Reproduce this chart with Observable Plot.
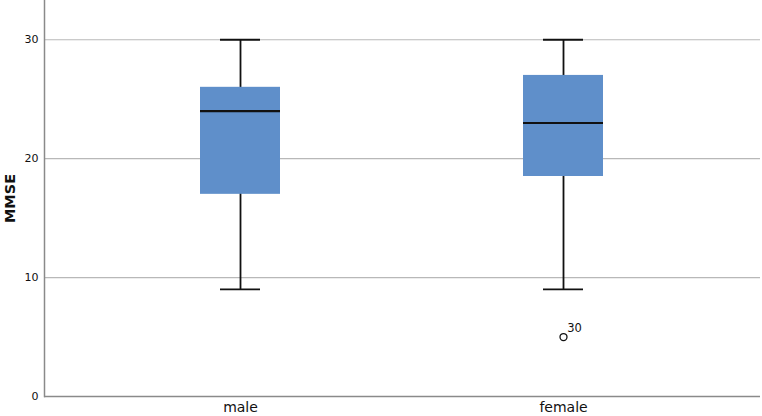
<!DOCTYPE html>
<html>
<head>
<meta charset="utf-8">
<script src="https://cdn.jsdelivr.net/npm/d3@7"></script>
<script src="https://cdn.jsdelivr.net/npm/@observablehq/plot@0.6"></script>
<style>
  html, body { margin: 0; padding: 0; background: #fff; }
  svg { display: block; }
</style>
</head>
<body>
<div id="chart"></div>
<script>
const groups = ["male", "female"];
const mins = [9, 9];
const q1s = [17, 18.5];
const medians = [24, 23];
const q3s = [26, 27];
const maxs = [30, 30];
const outlierGroups = ["female"];
const outlierValues = [5];
const outlierLabels = ["30"];
const yTicks = [0, 10, 20, 30];

const rows = groups.map((g, i) => ({group: g, min: mins[i], q1: q1s[i], median: medians[i], q3: q3s[i], max: maxs[i]}));
const outliers = outlierGroups.map((g, i) => ({group: g, value: outlierValues[i], label: outlierLabels[i]}));

const chart = Plot.plot({
  width: 762,
  height: 416,
  marginTop: 0,
  marginLeft: 44,
  marginRight: 2,
  marginBottom: 20,
  style: {fontFamily: "DejaVu Sans, sans-serif", background: "#fff"},
  x: {domain: groups, paddingInner: 0.752, paddingOuter: 0.484, label: null},
  y: {domain: [0, 33.3], label: "MMSE"},
  marks: [
    Plot.gridY([10, 20, 30], {stroke: "#b8b8b8", strokeOpacity: 1, strokeWidth: 1.2}),
    Plot.ruleY([0], {stroke: "#8a8a8a", strokeWidth: 1.5}),
    Plot.frame({anchor: "left", stroke: "#8a8a8a", strokeWidth: 1.5}),
    Plot.ruleX(rows, {x: "group", y1: "min", y2: "max", stroke: "#111", strokeWidth: 1.8}),
    Plot.barY(rows, {x: "group", y1: "q1", y2: "q3", fill: "#5f8fca"}),
    Plot.tickY(rows, {x: "group", y: "median", stroke: "#111", strokeWidth: 2.2}),
    Plot.tickY(rows, {x: "group", y: "min", insetLeft: 20, insetRight: 20, stroke: "#111", strokeWidth: 1.8}),
    Plot.tickY(rows, {x: "group", y: "max", insetLeft: 20, insetRight: 20, stroke: "#111", strokeWidth: 1.8}),
    Plot.dot(outliers, {x: "group", y: "value", r: 3.5, fill: "white", stroke: "#111", strokeWidth: 1.3}),
    Plot.text(outliers, {x: "group", y: "value", text: "label", dx: 11, dy: -9, fontSize: 11.5, fill: "#111"}),
    Plot.axisY(yTicks, {tickSize: 0, tickPadding: 6, fontSize: 11, fill: "#111", label: "MMSE", labelAnchor: "center", labelArrow: "none", labelOffset: 40}),
    Plot.axisX({tickSize: 0, tickPadding: 6, fontSize: 14, fill: "#111", label: null})
  ]
});
document.getElementById("chart").appendChild(chart);
d3.select(chart).selectAll('g[aria-label="y-axis label"] text').attr("font-weight", "bold").attr("font-size", 14.5);
</script>
</body>
</html>
